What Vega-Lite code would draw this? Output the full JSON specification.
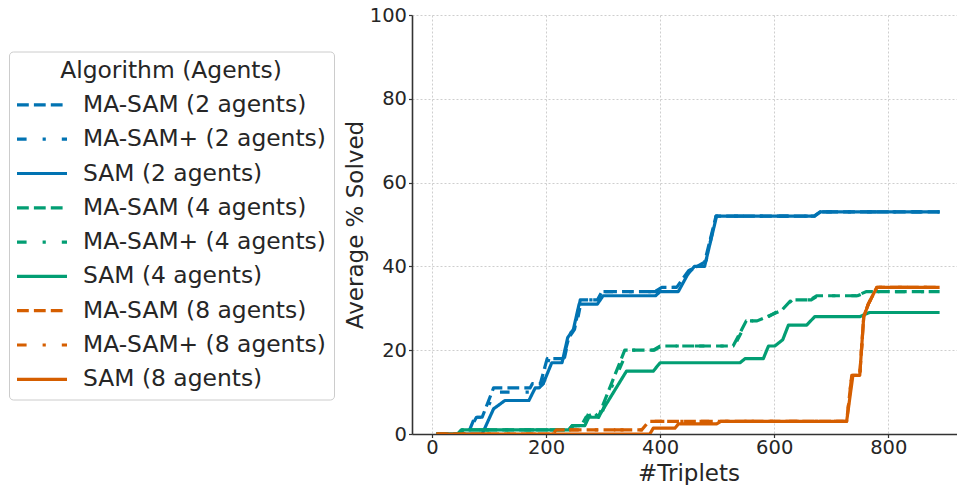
{
  "$schema": "https://vega.github.io/schema/vega-lite/v6.json",
  "width": 545,
  "height": 419,
  "autosize": {"type": "none"},
  "padding": {"left": 412, "top": 15, "right": 0, "bottom": 51},
  "config": {
    "font": "DejaVu Sans",
    "view": {"stroke": null},
    "axis": {"labelFont": "DejaVu Sans", "titleFont": "DejaVu Sans"},
    "legend": {"labelFont": "DejaVu Sans", "titleFont": "DejaVu Sans"}
  },
  "datasets": {
    "curves": [
      {"series": "MA-SAM (2 agents)", "triplets": 8, "solved": 0},
      {"series": "MA-SAM (2 agents)", "triplets": 60, "solved": 0},
      {"series": "MA-SAM (2 agents)", "triplets": 66, "solved": 1},
      {"series": "MA-SAM (2 agents)", "triplets": 75, "solved": 4},
      {"series": "MA-SAM (2 agents)", "triplets": 88, "solved": 4},
      {"series": "MA-SAM (2 agents)", "triplets": 108, "solved": 11},
      {"series": "MA-SAM (2 agents)", "triplets": 172, "solved": 11},
      {"series": "MA-SAM (2 agents)", "triplets": 176, "solved": 12},
      {"series": "MA-SAM (2 agents)", "triplets": 190, "solved": 12},
      {"series": "MA-SAM (2 agents)", "triplets": 202, "solved": 18},
      {"series": "MA-SAM (2 agents)", "triplets": 230, "solved": 18},
      {"series": "MA-SAM (2 agents)", "triplets": 240, "solved": 23},
      {"series": "MA-SAM (2 agents)", "triplets": 250, "solved": 25},
      {"series": "MA-SAM (2 agents)", "triplets": 260, "solved": 32},
      {"series": "MA-SAM (2 agents)", "triplets": 290, "solved": 32},
      {"series": "MA-SAM (2 agents)", "triplets": 298, "solved": 34},
      {"series": "MA-SAM (2 agents)", "triplets": 391, "solved": 34},
      {"series": "MA-SAM (2 agents)", "triplets": 403, "solved": 35},
      {"series": "MA-SAM (2 agents)", "triplets": 429, "solved": 35},
      {"series": "MA-SAM (2 agents)", "triplets": 450, "solved": 39},
      {"series": "MA-SAM (2 agents)", "triplets": 465, "solved": 40},
      {"series": "MA-SAM (2 agents)", "triplets": 478, "solved": 41},
      {"series": "MA-SAM (2 agents)", "triplets": 498, "solved": 52},
      {"series": "MA-SAM (2 agents)", "triplets": 670, "solved": 52},
      {"series": "MA-SAM (2 agents)", "triplets": 680, "solved": 53},
      {"series": "MA-SAM (2 agents)", "triplets": 890, "solved": 53},

      {"series": "MA-SAM+ (2 agents)", "triplets": 8, "solved": 0},
      {"series": "MA-SAM+ (2 agents)", "triplets": 62, "solved": 0},
      {"series": "MA-SAM+ (2 agents)", "triplets": 70, "solved": 2},
      {"series": "MA-SAM+ (2 agents)", "triplets": 78, "solved": 4},
      {"series": "MA-SAM+ (2 agents)", "triplets": 90, "solved": 4},
      {"series": "MA-SAM+ (2 agents)", "triplets": 110, "solved": 10},
      {"series": "MA-SAM+ (2 agents)", "triplets": 172, "solved": 10},
      {"series": "MA-SAM+ (2 agents)", "triplets": 180, "solved": 12},
      {"series": "MA-SAM+ (2 agents)", "triplets": 195, "solved": 12},
      {"series": "MA-SAM+ (2 agents)", "triplets": 205, "solved": 18},
      {"series": "MA-SAM+ (2 agents)", "triplets": 232, "solved": 18},
      {"series": "MA-SAM+ (2 agents)", "triplets": 242, "solved": 24},
      {"series": "MA-SAM+ (2 agents)", "triplets": 252, "solved": 25},
      {"series": "MA-SAM+ (2 agents)", "triplets": 262, "solved": 32},
      {"series": "MA-SAM+ (2 agents)", "triplets": 292, "solved": 32},
      {"series": "MA-SAM+ (2 agents)", "triplets": 300, "solved": 34},
      {"series": "MA-SAM+ (2 agents)", "triplets": 393, "solved": 34},
      {"series": "MA-SAM+ (2 agents)", "triplets": 404, "solved": 35},
      {"series": "MA-SAM+ (2 agents)", "triplets": 430, "solved": 35},
      {"series": "MA-SAM+ (2 agents)", "triplets": 452, "solved": 39},
      {"series": "MA-SAM+ (2 agents)", "triplets": 468, "solved": 40},
      {"series": "MA-SAM+ (2 agents)", "triplets": 480, "solved": 41},
      {"series": "MA-SAM+ (2 agents)", "triplets": 498, "solved": 52},
      {"series": "MA-SAM+ (2 agents)", "triplets": 672, "solved": 52},
      {"series": "MA-SAM+ (2 agents)", "triplets": 682, "solved": 53},
      {"series": "MA-SAM+ (2 agents)", "triplets": 890, "solved": 53},

      {"series": "SAM (2 agents)", "triplets": 8, "solved": 0},
      {"series": "SAM (2 agents)", "triplets": 88, "solved": 0},
      {"series": "SAM (2 agents)", "triplets": 108, "solved": 6},
      {"series": "SAM (2 agents)", "triplets": 128, "solved": 8},
      {"series": "SAM (2 agents)", "triplets": 170, "solved": 8},
      {"series": "SAM (2 agents)", "triplets": 181, "solved": 11},
      {"series": "SAM (2 agents)", "triplets": 188, "solved": 11},
      {"series": "SAM (2 agents)", "triplets": 195, "solved": 12},
      {"series": "SAM (2 agents)", "triplets": 210, "solved": 17},
      {"series": "SAM (2 agents)", "triplets": 228, "solved": 17},
      {"series": "SAM (2 agents)", "triplets": 238, "solved": 23},
      {"series": "SAM (2 agents)", "triplets": 248, "solved": 25},
      {"series": "SAM (2 agents)", "triplets": 258, "solved": 31},
      {"series": "SAM (2 agents)", "triplets": 290, "solved": 31},
      {"series": "SAM (2 agents)", "triplets": 300, "solved": 33},
      {"series": "SAM (2 agents)", "triplets": 392, "solved": 33},
      {"series": "SAM (2 agents)", "triplets": 400, "solved": 34},
      {"series": "SAM (2 agents)", "triplets": 432, "solved": 34},
      {"series": "SAM (2 agents)", "triplets": 448, "solved": 38},
      {"series": "SAM (2 agents)", "triplets": 460, "solved": 40},
      {"series": "SAM (2 agents)", "triplets": 478, "solved": 40},
      {"series": "SAM (2 agents)", "triplets": 499, "solved": 52},
      {"series": "SAM (2 agents)", "triplets": 671, "solved": 52},
      {"series": "SAM (2 agents)", "triplets": 681, "solved": 53},
      {"series": "SAM (2 agents)", "triplets": 890, "solved": 53},

      {"series": "MA-SAM (4 agents)", "triplets": 8, "solved": 0},
      {"series": "MA-SAM (4 agents)", "triplets": 45, "solved": 0},
      {"series": "MA-SAM (4 agents)", "triplets": 52, "solved": 1},
      {"series": "MA-SAM (4 agents)", "triplets": 240, "solved": 1},
      {"series": "MA-SAM (4 agents)", "triplets": 246, "solved": 2},
      {"series": "MA-SAM (4 agents)", "triplets": 262, "solved": 2},
      {"series": "MA-SAM (4 agents)", "triplets": 270, "solved": 4},
      {"series": "MA-SAM (4 agents)", "triplets": 285, "solved": 5},
      {"series": "MA-SAM (4 agents)", "triplets": 292, "solved": 4},
      {"series": "MA-SAM (4 agents)", "triplets": 300, "solved": 7},
      {"series": "MA-SAM (4 agents)", "triplets": 338, "solved": 20},
      {"series": "MA-SAM (4 agents)", "triplets": 388, "solved": 20},
      {"series": "MA-SAM (4 agents)", "triplets": 400, "solved": 21},
      {"series": "MA-SAM (4 agents)", "triplets": 528, "solved": 21},
      {"series": "MA-SAM (4 agents)", "triplets": 551, "solved": 27},
      {"series": "MA-SAM (4 agents)", "triplets": 570, "solved": 27},
      {"series": "MA-SAM (4 agents)", "triplets": 588, "solved": 28},
      {"series": "MA-SAM (4 agents)", "triplets": 613, "solved": 29.5},
      {"series": "MA-SAM (4 agents)", "triplets": 630, "solved": 32},
      {"series": "MA-SAM (4 agents)", "triplets": 663, "solved": 32},
      {"series": "MA-SAM (4 agents)", "triplets": 675, "solved": 33},
      {"series": "MA-SAM (4 agents)", "triplets": 744, "solved": 33},
      {"series": "MA-SAM (4 agents)", "triplets": 762, "solved": 34},
      {"series": "MA-SAM (4 agents)", "triplets": 890, "solved": 34},

      {"series": "MA-SAM+ (4 agents)", "triplets": 8, "solved": 0},
      {"series": "MA-SAM+ (4 agents)", "triplets": 48, "solved": 0},
      {"series": "MA-SAM+ (4 agents)", "triplets": 55, "solved": 1},
      {"series": "MA-SAM+ (4 agents)", "triplets": 242, "solved": 1},
      {"series": "MA-SAM+ (4 agents)", "triplets": 248, "solved": 2},
      {"series": "MA-SAM+ (4 agents)", "triplets": 265, "solved": 2},
      {"series": "MA-SAM+ (4 agents)", "triplets": 275, "solved": 5},
      {"series": "MA-SAM+ (4 agents)", "triplets": 298, "solved": 5},
      {"series": "MA-SAM+ (4 agents)", "triplets": 308, "solved": 9},
      {"series": "MA-SAM+ (4 agents)", "triplets": 343, "solved": 20},
      {"series": "MA-SAM+ (4 agents)", "triplets": 390, "solved": 20},
      {"series": "MA-SAM+ (4 agents)", "triplets": 402, "solved": 21},
      {"series": "MA-SAM+ (4 agents)", "triplets": 530, "solved": 21},
      {"series": "MA-SAM+ (4 agents)", "triplets": 553, "solved": 27},
      {"series": "MA-SAM+ (4 agents)", "triplets": 572, "solved": 27},
      {"series": "MA-SAM+ (4 agents)", "triplets": 590, "solved": 28},
      {"series": "MA-SAM+ (4 agents)", "triplets": 615, "solved": 30},
      {"series": "MA-SAM+ (4 agents)", "triplets": 632, "solved": 32},
      {"series": "MA-SAM+ (4 agents)", "triplets": 665, "solved": 32},
      {"series": "MA-SAM+ (4 agents)", "triplets": 677, "solved": 33},
      {"series": "MA-SAM+ (4 agents)", "triplets": 746, "solved": 33},
      {"series": "MA-SAM+ (4 agents)", "triplets": 764, "solved": 34},
      {"series": "MA-SAM+ (4 agents)", "triplets": 890, "solved": 34},

      {"series": "SAM (4 agents)", "triplets": 8, "solved": 0},
      {"series": "SAM (4 agents)", "triplets": 45, "solved": 0},
      {"series": "SAM (4 agents)", "triplets": 52, "solved": 1},
      {"series": "SAM (4 agents)", "triplets": 240, "solved": 1},
      {"series": "SAM (4 agents)", "triplets": 246, "solved": 2},
      {"series": "SAM (4 agents)", "triplets": 268, "solved": 2},
      {"series": "SAM (4 agents)", "triplets": 275, "solved": 4},
      {"series": "SAM (4 agents)", "triplets": 292, "solved": 4},
      {"series": "SAM (4 agents)", "triplets": 296, "solved": 5},
      {"series": "SAM (4 agents)", "triplets": 341, "solved": 15},
      {"series": "SAM (4 agents)", "triplets": 388, "solved": 15},
      {"series": "SAM (4 agents)", "triplets": 400, "solved": 17},
      {"series": "SAM (4 agents)", "triplets": 540, "solved": 17},
      {"series": "SAM (4 agents)", "triplets": 549, "solved": 18},
      {"series": "SAM (4 agents)", "triplets": 581, "solved": 18},
      {"series": "SAM (4 agents)", "triplets": 590, "solved": 21},
      {"series": "SAM (4 agents)", "triplets": 601, "solved": 21},
      {"series": "SAM (4 agents)", "triplets": 615, "solved": 22.5},
      {"series": "SAM (4 agents)", "triplets": 625, "solved": 26},
      {"series": "SAM (4 agents)", "triplets": 657, "solved": 26},
      {"series": "SAM (4 agents)", "triplets": 671, "solved": 28},
      {"series": "SAM (4 agents)", "triplets": 750, "solved": 28},
      {"series": "SAM (4 agents)", "triplets": 767, "solved": 29},
      {"series": "SAM (4 agents)", "triplets": 890, "solved": 29},

      {"series": "MA-SAM (8 agents)", "triplets": 8, "solved": 0},
      {"series": "MA-SAM (8 agents)", "triplets": 212, "solved": 0},
      {"series": "MA-SAM (8 agents)", "triplets": 218, "solved": 1},
      {"series": "MA-SAM (8 agents)", "triplets": 368, "solved": 1},
      {"series": "MA-SAM (8 agents)", "triplets": 380, "solved": 3},
      {"series": "MA-SAM (8 agents)", "triplets": 727, "solved": 3},
      {"series": "MA-SAM (8 agents)", "triplets": 736, "solved": 14},
      {"series": "MA-SAM (8 agents)", "triplets": 750, "solved": 14},
      {"series": "MA-SAM (8 agents)", "triplets": 757, "solved": 28},
      {"series": "MA-SAM (8 agents)", "triplets": 765, "solved": 31},
      {"series": "MA-SAM (8 agents)", "triplets": 780, "solved": 35},
      {"series": "MA-SAM (8 agents)", "triplets": 890, "solved": 35},

      {"series": "MA-SAM+ (8 agents)", "triplets": 8, "solved": 0},
      {"series": "MA-SAM+ (8 agents)", "triplets": 215, "solved": 0},
      {"series": "MA-SAM+ (8 agents)", "triplets": 222, "solved": 1},
      {"series": "MA-SAM+ (8 agents)", "triplets": 370, "solved": 1},
      {"series": "MA-SAM+ (8 agents)", "triplets": 382, "solved": 3},
      {"series": "MA-SAM+ (8 agents)", "triplets": 727, "solved": 3},
      {"series": "MA-SAM+ (8 agents)", "triplets": 736, "solved": 14},
      {"series": "MA-SAM+ (8 agents)", "triplets": 750, "solved": 14},
      {"series": "MA-SAM+ (8 agents)", "triplets": 757, "solved": 28},
      {"series": "MA-SAM+ (8 agents)", "triplets": 765, "solved": 31},
      {"series": "MA-SAM+ (8 agents)", "triplets": 780, "solved": 35},
      {"series": "MA-SAM+ (8 agents)", "triplets": 890, "solved": 35},

      {"series": "SAM (8 agents)", "triplets": 8, "solved": 0},
      {"series": "SAM (8 agents)", "triplets": 382, "solved": 0},
      {"series": "SAM (8 agents)", "triplets": 388, "solved": 1.4},
      {"series": "SAM (8 agents)", "triplets": 426, "solved": 1.4},
      {"series": "SAM (8 agents)", "triplets": 432, "solved": 2.4},
      {"series": "SAM (8 agents)", "triplets": 499, "solved": 2.4},
      {"series": "SAM (8 agents)", "triplets": 506, "solved": 3},
      {"series": "SAM (8 agents)", "triplets": 727, "solved": 3},
      {"series": "SAM (8 agents)", "triplets": 738, "solved": 14},
      {"series": "SAM (8 agents)", "triplets": 750, "solved": 14},
      {"series": "SAM (8 agents)", "triplets": 757, "solved": 28},
      {"series": "SAM (8 agents)", "triplets": 765, "solved": 31},
      {"series": "SAM (8 agents)", "triplets": 780, "solved": 35},
      {"series": "SAM (8 agents)", "triplets": 890, "solved": 35}
    ]
  },
  "layer": [
    {
      "data": {"name": "curves"},
      "mark": {"type": "line", "strokeWidth": 3.2, "strokeCap": "butt", "strokeJoin": "round", "clip": true},
      "encoding": {
        "x": {
          "field": "triplets",
          "type": "quantitative",
          "scale": {"domain": [-35, 920.5], "nice": false, "zero": false},
          "axis": {
            "values": [0, 200, 400, 600, 800],
            "title": "#Triplets",
            "titleFontSize": 23,
            "titleFontWeight": "normal",
            "titleColor": "#262626",
            "titleBaseline": "alphabetic",
            "titleY": 46,
            "titleX": 276.5,
            "labelFontSize": 19.5,
            "labelColor": "#262626",
            "labelPadding": 1,
            "labelFlush": false,
            "tickSize": 3.5,
            "tickColor": "#333333",
            "tickWidth": 1.2,
            "domainColor": "#333333",
            "domainWidth": 1.6,
            "grid": true,
            "gridColor": "#c8c8c8",
            "gridDash": [2, 2],
            "gridWidth": 0.9
          }
        },
        "y": {
          "field": "solved",
          "type": "quantitative",
          "scale": {"domain": [0, 100], "nice": false},
          "axis": {
            "values": [0, 20, 40, 60, 80, 100],
            "title": "Average % Solved",
            "titleFontSize": 23,
            "titleFontWeight": "normal",
            "titleColor": "#262626",
            "titleBaseline": "alphabetic",
            "titleX": -49.5,
            "labelFontSize": 19.5,
            "labelColor": "#262626",
            "labelPadding": 2,
            "labelFlush": false,
            "tickSize": 3.5,
            "tickColor": "#333333",
            "tickWidth": 1.2,
            "domainColor": "#333333",
            "domainWidth": 1.6,
            "grid": true,
            "gridColor": "#c8c8c8",
            "gridDash": [2, 2],
            "gridWidth": 0.9
          }
        },
        "color": {
          "field": "series",
          "type": "nominal",
          "scale": {
            "domain": ["MA-SAM (2 agents)", "MA-SAM+ (2 agents)", "SAM (2 agents)", "MA-SAM (4 agents)", "MA-SAM+ (4 agents)", "SAM (4 agents)", "MA-SAM (8 agents)", "MA-SAM+ (8 agents)", "SAM (8 agents)"],
            "range": ["#0173b2", "#0173b2", "#0173b2", "#029e73", "#029e73", "#029e73", "#d55e00", "#d55e00", "#d55e00"]
          },
          "legend": {
            "orient": "none",
            "legendX": -403,
            "legendY": 36.5,
            "title": "Algorithm (Agents)",
            "titleFontSize": 23.4,
            "titleFontWeight": "normal",
            "titleColor": "#262626",
            "titleAnchor": "middle",
            "titleLimit": 400,
            "titlePadding": 10,
            "labelFontSize": 23.4,
            "labelColor": "#262626",
            "labelLimit": 400,
            "labelOffset": 29,
            "symbolType": "M-2.5,0L2.5,0",
            "symbolSize": 400,
            "symbolStrokeWidth": 3.2,
            "symbolOffset": 13,
            "rowPadding": 10.3,
            "padding": 8,
            "strokeColor": "#cccccc",
            "fillColor": "#ffffff",
            "cornerRadius": 4
          }
        },
        "strokeDash": {
          "field": "series",
          "type": "nominal",
          "scale": {
            "domain": ["MA-SAM (2 agents)", "MA-SAM+ (2 agents)", "SAM (2 agents)", "MA-SAM (4 agents)", "MA-SAM+ (4 agents)", "SAM (4 agents)", "MA-SAM (8 agents)", "MA-SAM+ (8 agents)", "SAM (8 agents)"],
            "range": [[11.8, 5.1], [9.6, 16, 3.2, 16], [1, 0], [11.8, 5.1], [9.6, 16, 3.2, 16], [1, 0], [11.8, 5.1], [9.6, 16, 3.2, 16], [1, 0]]
          }
        }
      }
    },
    {
      "mark": {"type": "rule", "color": "#333333", "strokeWidth": 1.6},
      "encoding": {"y": {"datum": 100}}
    }
  ]
}
